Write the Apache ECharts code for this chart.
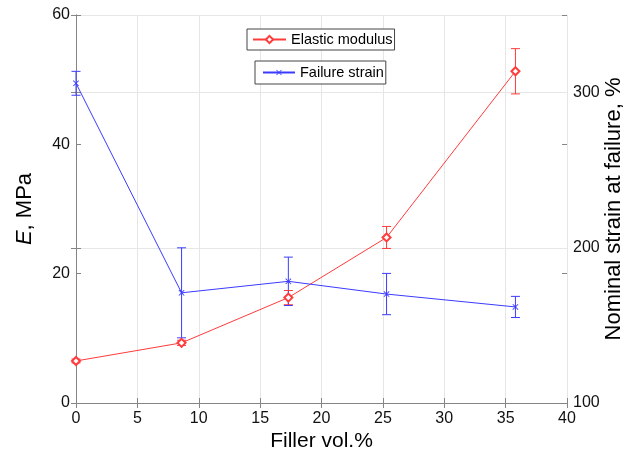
<!DOCTYPE html>
<html>
<head>
<meta charset="utf-8">
<script src="https://cdn.jsdelivr.net/npm/echarts@6/dist/echarts.min.js"></script>
<style>
html,body{margin:0;padding:0;background:#fff;}
#chart{width:644px;height:459px;}
</style>
</head>
<body>
<div id="chart"></div>
<script>
// ---- data ----
const fillerVol = [0, 8.6, 17.3, 25.3, 35.8];
const modulus = [6.5, 9.3, 16.3, 25.6, 51.3];
const modulusErr = [0.3, 0.4, 1.1, 1.7, 3.5];
const strain = [306, 171, 178.4, 170.2, 161.9];
const strainErr = [7.7, 29, 15.6, 13.3, 6.8];
const xTicks = [0, 5, 10, 15, 20, 25, 30, 35, 40];
const leftTicks = [0, 20, 40, 60];
const rightTicks = [100, 200, 300];

const FONT = 'Liberation Sans, Arial, Helvetica, sans-serif';
const AX = '#858585';
const RED = '#ff3b3b';
const BLUE = '#3b3bff';

const modPts = fillerVol.map((x, i) => [x, modulus[i]]);
const strPts = fillerVol.map((x, i) => [x, strain[i]]);

// error bars as broken line segments (low -> high, then a gap)
function errSegments(xs, vals, errs) {
  const out = [];
  xs.forEach((x, i) => {
    out.push([x, vals[i] - errs[i]]);
    out.push([x, vals[i] + errs[i]]);
    out.push([x, '-']);
  });
  return out;
}
const modErrData = errSegments(fillerVol, modulus, modulusErr);
const strErrData = errSegments(fillerVol, strain, strainErr);

const X_SYMBOL = 'path://M0,1L1,0L5,4L9,0L10,1L6,5L10,9L9,10L5,6L1,10L0,9L4,5Z';

function errSeries(name, data, yIdx, color) {
  return {
    name: name, type: 'line', xAxisIndex: 0, yAxisIndex: yIdx,
    data: data, connectNulls: false,
    symbol: 'rect', symbolSize: [9, 1], showAllSymbol: true,
    lineStyle: { color: color, width: 1 },
    itemStyle: { color: color, borderWidth: 0 },
    emphasis: { disabled: true },
    silent: true, z: 2
  };
}

const chart = echarts.init(document.getElementById('chart'), null, { renderer: 'canvas' });
chart.setOption({
  animation: false,
  backgroundColor: '#fff',
  textStyle: { fontFamily: FONT },
  grid: { left: 76, right: 77, top: 15, bottom: 56, containLabel: false },
  legend: [
    {
      data: ['Elastic modulus'],
      left: 247, top: 29,
      padding: [3, 2, 3, 5],
      itemWidth: 33, itemHeight: 9,
      borderColor: '#444', borderWidth: 1, backgroundColor: '#fff',
      textStyle: { fontFamily: FONT, fontSize: 14.5, color: '#000' },
      selectedMode: false
    },
    {
      data: ['Failure strain'],
      left: 255, top: 61,
      padding: [4, 2, 4, 7],
      itemWidth: 32, itemHeight: 7,
      borderColor: '#444', borderWidth: 1, backgroundColor: '#fff',
      textStyle: { fontFamily: FONT, fontSize: 14.5, color: '#000' },
      selectedMode: false
    }
  ],
  xAxis: [
    {
      type: 'value', position: 'bottom', min: xTicks[0], max: xTicks[xTicks.length - 1], interval: 5,
      name: 'Filler vol.%', nameLocation: 'middle', nameGap: 28, nameMoveOverlap: false,
      nameTextStyle: { fontSize: 21, color: '#000', fontFamily: FONT },
      axisLine: { show: true, lineStyle: { color: AX, width: 1 } },
      axisTick: { show: true, inside: true, length: 5, lineStyle: { color: AX } },
      axisLabel: { fontSize: 16, color: '#111', margin: 8, fontFamily: FONT },
      splitLine: { show: true, lineStyle: { color: '#e6e6e6', width: 1 } }
    },
    {
      type: 'value', position: 'top', min: 0, max: 40, interval: 5,
      axisLine: { show: true, lineStyle: { color: AX, width: 1 } },
      axisTick: { show: true, inside: true, length: 5, lineStyle: { color: AX } },
      axisLabel: { show: false },
      splitLine: { show: false }
    }
  ],
  yAxis: [
    {
      type: 'value', position: 'left', min: leftTicks[0], max: leftTicks[leftTicks.length - 1], interval: 20,
      name: '{i|E}, MPa', nameLocation: 'middle', nameGap: 40, nameMoveOverlap: false,
      nameTextStyle: { fontSize: 22, color: '#000', fontFamily: FONT, rich: { i: { fontStyle: 'italic', fontSize: 22, fontFamily: FONT, color: '#000' } } },
      axisLine: { show: true, lineStyle: { color: AX, width: 1 } },
      axisTick: { show: true, inside: true, length: 5, lineStyle: { color: AX } },
      axisLabel: { fontSize: 16, color: '#111', margin: 6, fontFamily: FONT },
      splitLine: { show: false }
    },
    {
      type: 'value', position: 'right', min: rightTicks[0], max: 350, interval: 100,
      name: 'Nominal strain at failure, %', nameLocation: 'middle', nameGap: 36, nameMoveOverlap: false,
      nameTextStyle: { fontSize: 22, color: '#000', fontFamily: FONT },
      axisLine: { show: true, lineStyle: { color: AX, width: 1 } },
      axisTick: { show: true, inside: true, length: 5, lineStyle: { color: AX } },
      axisLabel: { fontSize: 16, color: '#111', margin: 6, fontFamily: FONT,
        formatter: v => (rightTicks.indexOf(v) >= 0 ? String(v) : '') },
      splitLine: { show: true, lineStyle: { color: '#e6e6e6', width: 1 } }
    },
    {
      type: 'value', position: 'right', min: 0, max: 60, interval: 20,
      axisLine: { show: false },
      axisTick: { show: true, inside: true, length: 5, lineStyle: { color: AX } },
      axisLabel: { show: false },
      splitLine: { show: false }
    },
    {
      type: 'value', position: 'left', min: 100, max: 350, interval: 100,
      axisLine: { show: false },
      axisTick: { show: true, inside: true, length: 5, lineStyle: { color: AX } },
      axisLabel: { show: false },
      splitLine: { show: false }
    }
  ],
  series: [
    errSeries('modErr', modErrData, 0, RED),
    errSeries('strErr', strErrData, 1, BLUE),
    {
      name: 'Elastic modulus', type: 'line', xAxisIndex: 0, yAxisIndex: 0,
      data: modPts,
      symbol: 'emptyDiamond', symbolSize: 8, showAllSymbol: true,
      lineStyle: { color: RED, width: 1 },
      itemStyle: { color: RED, borderColor: RED, borderWidth: 0.8 },
      z: 3
    },
    {
      name: 'Failure strain', type: 'line', xAxisIndex: 0, yAxisIndex: 1,
      data: strPts,
      symbol: X_SYMBOL, symbolSize: 6, showAllSymbol: true,
      lineStyle: { color: BLUE, width: 1 },
      itemStyle: { color: BLUE },
      z: 3
    }
  ]
});
</script>
</body>
</html>
